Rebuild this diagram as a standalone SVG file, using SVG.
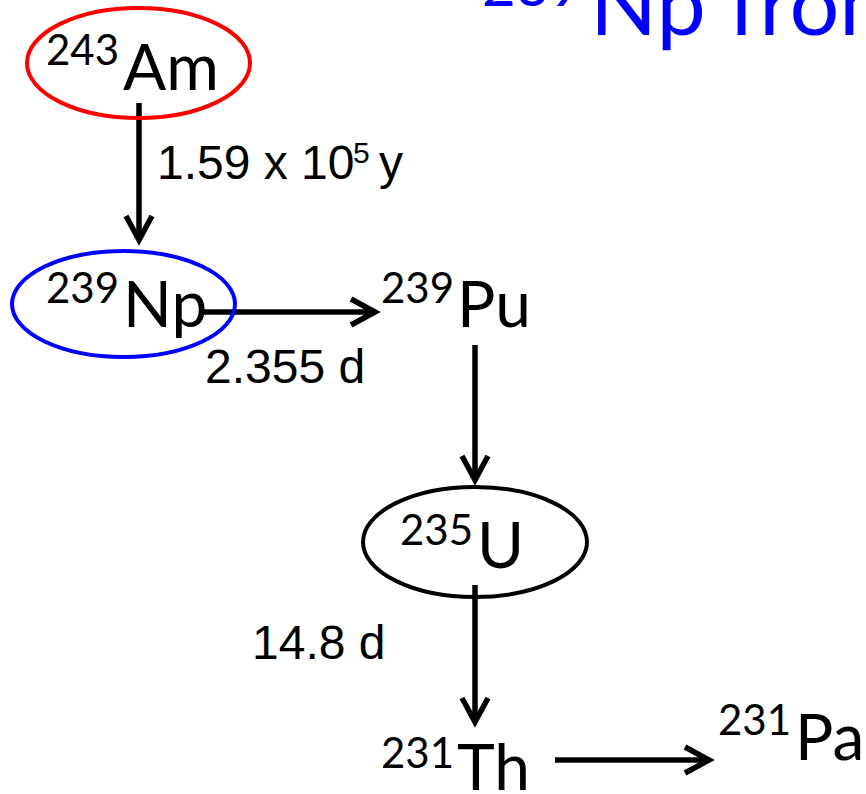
<svg xmlns="http://www.w3.org/2000/svg" width="866" height="794" viewBox="0 0 866 794">
<style>
.nuc{font-family:Lato,"Open Sans","Noto Sans",sans-serif;fill:#000;}
.sup{font-size:42px;}
.main{font-size:64px;}
.lbl{font-family:"Liberation Sans",Arial,sans-serif;font-size:48px;fill:#000;}
.ring{fill:none;stroke-width:4;}
.conn{fill:none;stroke:#000;stroke-width:5.5;marker-end:url(#arr);}
.title{font-family:Lato,"Open Sans","Noto Sans",sans-serif;fill:#0000FF;}
</style>
<defs>
<marker id="arr" markerUnits="userSpaceOnUse" markerWidth="60" markerHeight="60" viewBox="-30 -30 60 60" refX="0" refY="0" orient="auto" overflow="visible">
<path d="M-24,-13 L0,0 L-24,13" fill="none" stroke="#000" stroke-width="5.5" stroke-linejoin="miter"/>
</marker>
</defs>
<rect width="866" height="794" fill="#fff"/>
<g id="title">
<text class="title" x="583" y="6" font-size="58" text-anchor="end">239</text>
<text class="title" x="590" y="35" font-size="88">Np from</text>
</g>
<g id="connectors">
<line class="conn" x1="139" y1="103" x2="139" y2="240"/>
<line class="conn" x1="204" y1="312" x2="375" y2="312"/>
<line class="conn" x1="475" y1="345" x2="475" y2="480"/>
<line class="conn" x1="475" y1="585" x2="475" y2="722"/>
<line class="conn" x1="555" y1="760" x2="709" y2="760"/>
</g>
<g id="labels">
<text class="lbl" y="179"><tspan x="157">1.59 x 10</tspan><tspan x="353" y="163" font-size="30">5</tspan><tspan x="379" y="179">y</tspan></text>
<text class="lbl" x="205" y="383">2.355 d</text>
<text class="lbl" x="252" y="659">14.8 d</text>
</g>
<g id="am243">
<ellipse class="ring" stroke="#FF0000" cx="138.5" cy="63" rx="111.5" ry="55"/>
<text class="nuc sup" x="46" y="65">243</text>
<text class="nuc main" x="123" y="90">Am</text>
</g>
<g id="np239">
<ellipse class="ring" stroke="#0000FF" cx="123.5" cy="304" rx="111.5" ry="53"/>
<text class="nuc sup" x="46" y="303">239</text>
<text class="nuc main" x="123" y="327">Np</text>
</g>
<g id="pu239">
<text class="nuc sup" x="381" y="303">239</text>
<text class="nuc main" x="457" y="327">Pu</text>
</g>
<g id="u235">
<ellipse class="ring" stroke="#000" cx="475" cy="542" rx="112" ry="55"/>
<text class="nuc sup" x="400" y="545">235</text>
<text class="nuc main" x="477" y="568">U</text>
</g>
<g id="th231">
<text class="nuc sup" x="381" y="768">231</text>
<text class="nuc main" x="457" y="790">Th</text>
</g>
<g id="pa231">
<text class="nuc sup" x="718" y="735">231</text>
<text class="nuc main" x="795" y="760">Pa</text>
</g>
</svg>
